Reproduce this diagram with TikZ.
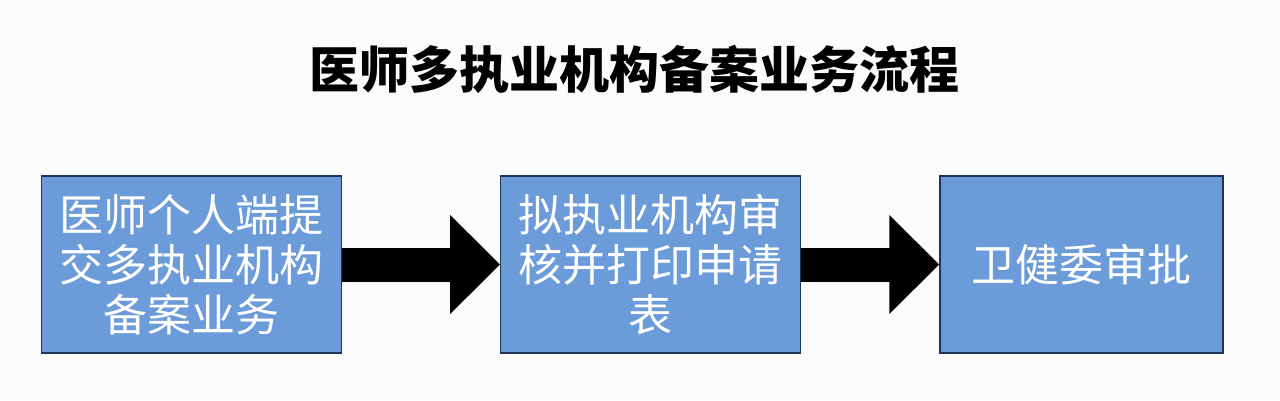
\documentclass[tikz,border=0pt]{standalone}
\usepackage{fontspec}
\usepackage{xcolor}
\usepackage{tikz}
\usetikzlibrary{positioning,arrows.meta}
\newfontfamily\cjk{Noto Sans CJK SC}
\definecolor{boxBlue}{RGB}{108, 155, 217}
\definecolor{boxEdge}{RGB}{30, 52, 90}
\definecolor{paperGrey}{RGB}{251, 251, 251}

\begin{document}
\begin{tikzpicture}[x=1pt, y=1pt]
    % Define styles
    \tikzstyle{process} = [rectangle, draw=boxEdge, line width=1.2pt, fill=boxBlue, text=white, align=center, inner sep=0pt, minimum width=300pt, minimum height=177pt, font=\cjk\fontsize{44}{50}\selectfont]
    \tikzstyle{arrow} = [line width=34pt, -{Triangle[length=50pt, width=96pt]}]

    % Canvas
    \fill [paperGrey] (0,0) rectangle (1280,400);
    \useasboundingbox (0,0) rectangle (1280,400);

    % Title
    \node [font=\cjk\bfseries\fontsize{50}{56}\selectfont] (title) at (634,331) {医师多执业机构备案业务流程};

    % Steps
    \node [process] (submit) at (191.5,135.5) {医师个人端提\\交多执业机构\\备案业务};
    \node [process, right=158pt of submit] (review) {拟执业机构审\\核并打印申请\\表};
    \node [process, right=138pt of review, minimum width=283pt] (approve) {卫健委审批};

    % Arrows
    \draw [arrow] (submit) -- (review);
    \draw [arrow] (review) -- (approve);
\end{tikzpicture}
\end{document}
